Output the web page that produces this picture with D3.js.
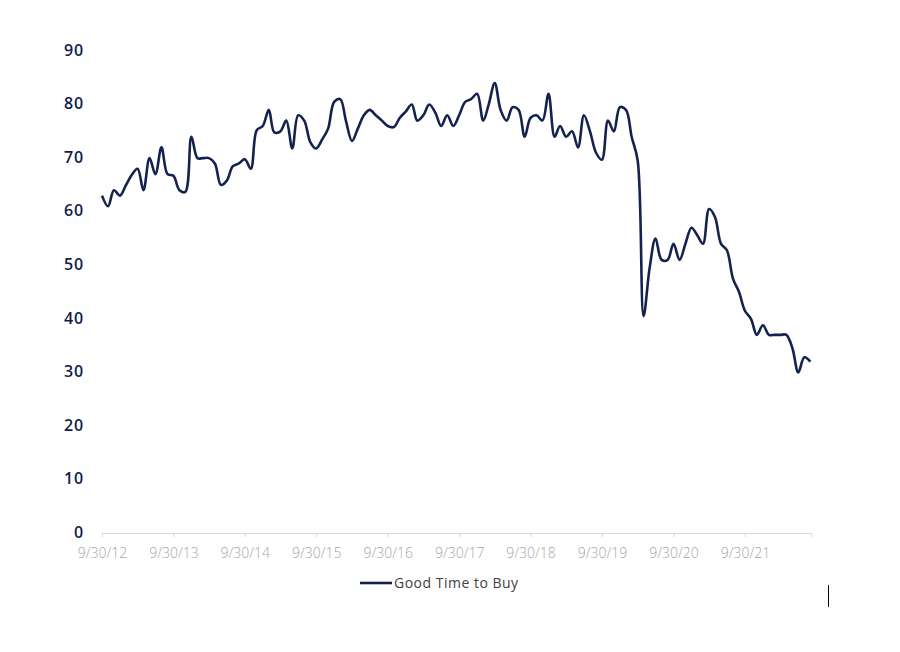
<!DOCTYPE html>
<html>
<head>
<meta charset="utf-8">
<script src="https://cdn.jsdelivr.net/npm/d3@7"></script>
<style>
  body { margin: 0; background: #ffffff; }
  .y-label { font-family: "Open Sans", sans-serif; font-weight: 600; font-size: 16px; letter-spacing: 0.8px; fill: #0f1c4d; }
  .x-label { font-family: "Open Sans", sans-serif; font-weight: 300; font-size: 14px; fill: #a6a6a6; }
  .legend-label { font-family: "Open Sans", sans-serif; font-size: 14px; letter-spacing: 0.5px; fill: #404040; }
</style>
</head>
<body>
<div id="chart"></div>
<script>
// monthly readings, Sep 2012 .. Aug 2022
const startYear = 2012;
const startMonth = 8; // September (0-based)
const goodTimeToBuy = [
  63, 61, 64, 63, 65, 66.8, 68, 64, 70, 67, 72, 67,
  66.7, 64, 63.7, 74, 70, 70, 70, 69, 65, 65.8, 68.5, 69,
  69.8, 68, 75.2, 76, 79, 74.8, 75, 77, 71.8, 78, 77, 73,
  71.8, 73.5, 75.5, 80.5, 81, 77, 73.2, 75.5, 78, 79, 78, 77,
  76, 75.8, 77.5, 78.7, 80, 77, 78, 80, 78.5, 76, 78, 76,
  78, 80.5, 81, 82, 77, 80, 84, 79, 77, 79.5, 79, 74,
  77.5, 78, 77, 82, 74, 76, 74, 75, 72, 78, 75, 71,
  69.7, 77, 75, 79.5, 79, 74, 69.5, 40.5, 49.5, 55, 51, 51,
  54, 51, 54, 57, 55.5, 54, 60.5, 59, 54, 52.8, 47.5, 45,
  41.5, 40, 37, 38.8, 37, 37, 37, 37, 34.5, 30, 32.8, 32
];
const yTicks = [0, 10, 20, 30, 40, 50, 60, 70, 80, 90];
const xTickLabels = ["9/30/12", "9/30/13", "9/30/14", "9/30/15", "9/30/16",
                     "9/30/17", "9/30/18", "9/30/19", "9/30/20", "9/30/21"];
const seriesName = "Good Time to Buy";

const width = 900, height = 652;
const margin = {top: 51, right: 89, bottom: 119, left: 102};

// month-end dates
const data = goodTimeToBuy.map((v, i) => ({
  date: new Date(startYear, startMonth + i + 1, 0),
  value: v
}));

const tickDates = xTickLabels.map(s => d3.timeParse("%m/%d/%y")(s));

const svg = d3.select("#chart").append("svg")
  .attr("width", width)
  .attr("height", height);

const x = d3.scaleTime()
  .domain([data[0].date, new Date(2022, 8, 3)])
  .range([margin.left, width - margin.right]);

const y = d3.scaleLinear()
  .domain([0, 90])
  .range([height - margin.bottom, margin.top]);

// y labels (no axis line)
svg.append("g")
  .selectAll("text")
  .data(yTicks)
  .join("text")
  .attr("class", "y-label")
  .attr("x", 84)
  .attr("y", d => y(d))
  .attr("dy", "0.3em")
  .attr("text-anchor", "end")
  .text(d => d);

// x axis
const xAxis = svg.append("g")
  .attr("transform", `translate(0,${y(0)})`)
  .call(d3.axisBottom(x)
    .tickValues(tickDates)
    .tickFormat((d, i) => xTickLabels[i])
    .tickSize(4)
    .tickPadding(11));

xAxis.select(".domain").attr("stroke", "#d9d9d9");
xAxis.selectAll(".tick line").attr("stroke", "#d9d9d9");
xAxis.selectAll(".tick text").attr("class", "x-label").attr("fill", null);

// line
const line = d3.line()
  .x(d => x(d.date))
  .y(d => y(d.value))
  .curve(d3.curveCatmullRom);

svg.append("path")
  .datum(data)
  .attr("fill", "none")
  .attr("stroke", "#14224f")
  .attr("stroke-width", 2.6)
  .attr("stroke-linejoin", "round")
  .attr("d", line);

// legend
const legend = svg.append("g").attr("transform", "translate(360,583)");
legend.append("line")
  .attr("x1", 0).attr("x2", 32)
  .attr("y1", 0).attr("y2", 0)
  .attr("stroke", "#14224f")
  .attr("stroke-width", 2.6);
legend.append("text")
  .attr("class", "legend-label")
  .attr("x", 34)
  .attr("dy", "0.35em")
  .text(seriesName);

// stray cursor mark seen in the original
svg.append("line")
  .attr("x1", 828.5).attr("x2", 828.5)
  .attr("y1", 585).attr("y2", 607)
  .attr("stroke", "#000")
  .attr("stroke-width", 1);
</script>
</body>
</html>
